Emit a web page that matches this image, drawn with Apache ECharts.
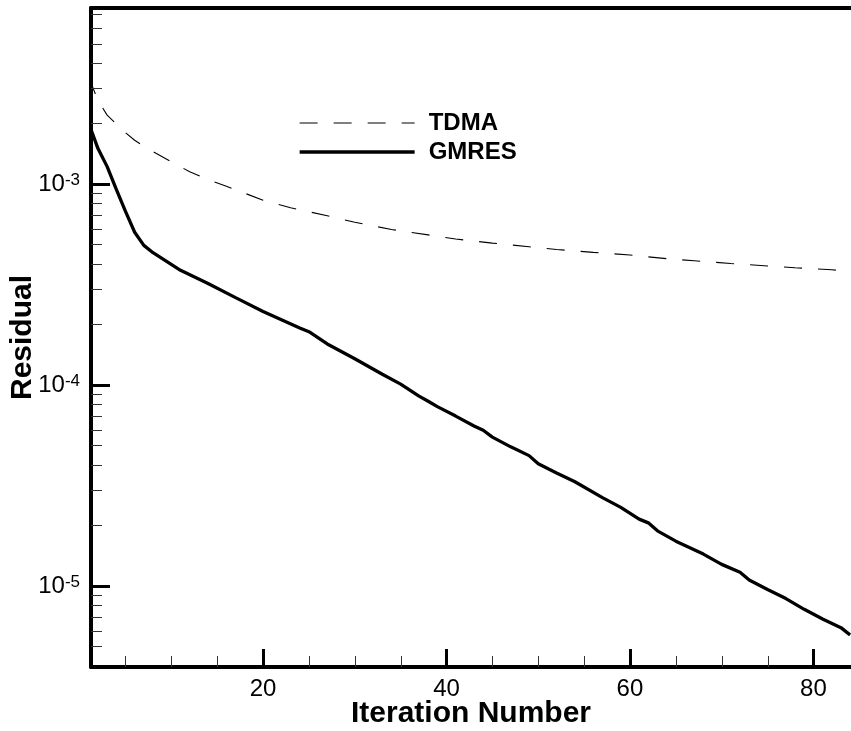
<!DOCTYPE html>
<html>
<head>
<meta charset="utf-8">
<script src="https://cdn.jsdelivr.net/npm/echarts@6/dist/echarts.min.js"></script>
<style>
  html, body { margin: 0; padding: 0; background: #fff; }
  #chart { width: 851px; height: 731px; }
</style>
</head>
<body>
<div id="chart"></div>
<script>
// Convergence history: residual versus iteration for two linear solvers
const tdmaIter = [1, 2, 3, 4, 5, 6, 7, 8, 10, 12, 14, 16, 20, 23, 27, 30, 34, 38, 41, 45, 49, 52, 56, 60, 64, 67, 71, 75, 78, 82, 84];
const tdmaResidual = [3.4e-3, 2.6e-3, 2.2e-3, 1.99e-3, 1.8e-3, 1.65e-3, 1.54e-3, 1.45e-3, 1.29e-3, 1.15e-3, 1.05e-3, 9.75e-4,
  8.3e-4, 7.62e-4, 6.95e-4, 6.45e-4, 5.94e-4, 5.58e-4, 5.32e-4, 5.08e-4, 4.87e-4, 4.72e-4, 4.57e-4, 4.43e-4,
  4.25e-4, 4.15e-4, 4.02e-4, 3.91e-4, 3.83e-4, 3.74e-4, 3.69e-4];

const gmresIter = [1, 2, 3, 4, 5, 6, 7, 8, 11, 14, 17, 20, 24, 25, 27, 30, 33, 35, 37, 38, 39, 41, 43, 44, 45, 47, 49, 50,
  52, 54, 57, 59, 61, 62, 63, 65, 66, 68, 70, 72, 73, 75, 77, 79, 81, 83, 84];
const gmresResidual = [2.0e-3, 1.5e-3, 1.22e-3, 9.4e-4, 7.3e-4, 5.75e-4, 4.95e-4, 4.55e-4, 3.72e-4, 3.2e-4, 2.72e-4, 2.32e-4,
  1.92e-4, 1.84e-4, 1.6e-4, 1.35e-4, 1.13e-4, 1.01e-4, 8.8e-5, 8.3e-5, 7.8e-5, 7.0e-5, 6.25e-5, 5.95e-5, 5.5e-5, 4.92e-5,
  4.45e-5, 4.05e-5, 3.65e-5, 3.3e-5, 2.75e-5, 2.46e-5, 2.15e-5, 2.06e-5, 1.88e-5, 1.67e-5, 1.59e-5, 1.44e-5, 1.28e-5,
  1.17e-5, 1.07e-5, 9.6e-6, 8.65e-6, 7.65e-6, 6.85e-6, 6.2e-6, 5.7e-6];

// Axis ranges and tick positions
const xRange = [1.24, 84.1];
const yRange = [3.95e-6, 7.51e-3];
const xMajorTicks = [20, 40, 60, 80];
const xMinorTicks = [5, 10, 15, 25, 30, 35, 45, 50, 55, 65, 70, 75];
const yMinorTicks = [5e-6, 6e-6, 7e-6, 8e-6, 9e-6,
  2e-5, 3e-5, 4e-5, 5e-5, 6e-5, 7e-5, 8e-5, 9e-5,
  2e-4, 3e-4, 4e-4, 5e-4, 6e-4, 7e-4, 8e-4, 9e-4,
  2e-3, 3e-3, 4e-3, 5e-3, 6e-3, 7e-3];

const FONT = '"Liberation Sans", Arial, Helvetica, sans-serif';
const INK = '#000';

const zip = (xs, ys) => xs.map((x, i) => [x, ys[i]]);

const chart = echarts.init(document.getElementById('chart'), null, { renderer: 'canvas' });

chart.setOption({
  animation: false,
  backgroundColor: '#fff',
  grid: { left: 91, right: 0, top: 8, bottom: 64, containLabel: false, outerBoundsMode: 'none' },
  legend: {
    orient: 'vertical',
    left: 293,
    top: 106,
    itemWidth: 115,
    itemHeight: 14,
    itemGap: 5,
    itemStyle: { opacity: 0, borderWidth: 0 },
    data: [
      { name: 'TDMA', lineStyle: { color: INK, width: 1.1, type: [18, 16] } },
      { name: 'GMRES', lineStyle: { color: INK, width: 3.3 } }
    ],
    textStyle: { fontFamily: FONT, fontSize: 24, fontWeight: 'bold', color: INK, lineHeight: 24, padding: [0, 0, 0, 9] }
  },
  xAxis: [
    {
      type: 'value',
      min: xRange[0],
      max: xRange[1],
      position: 'bottom',
      name: 'Iteration Number',
      nameLocation: 'middle',
      nameGap: 32,
      nameMoveOverlap: false,
      nameTextStyle: { fontFamily: FONT, fontSize: 30, fontWeight: 'bold', color: INK },
      axisLine: { show: true, onZero: false, lineStyle: { color: INK, width: 4 } },
      axisTick: { show: true, inside: true, length: 18, customValues: xMajorTicks, lineStyle: { color: INK, width: 3 } },
      axisLabel: { show: true, customValues: xMajorTicks, margin: 10, fontFamily: FONT, fontSize: 24, color: INK },
      splitLine: { show: false }
    },
    {
      // top frame line
      type: 'value',
      min: xRange[0],
      max: xRange[1],
      position: 'top',
      axisLine: { show: true, onZero: false, lineStyle: { color: INK, width: 4 } },
      axisTick: { show: false },
      axisLabel: { show: false },
      splitLine: { show: false }
    }
  ],
  yAxis: {
    type: 'log',
    logBase: 10,
    min: yRange[0],
    max: yRange[1],
    name: 'Residual',
    nameLocation: 'middle',
    nameGap: 53,
    nameMoveOverlap: false,
    nameTextStyle: { fontFamily: FONT, fontSize: 30, fontWeight: 'bold', color: INK },
    axisLine: { show: true, onZero: false, lineStyle: { color: INK, width: 4 } },
    axisTick: { show: true, inside: true, length: 19, lineStyle: { color: INK, width: 3 } },
    axisLabel: {
      margin: 11,
      fontFamily: FONT,
      fontSize: 24,
      color: INK,
      formatter: function (v) {
        const e = Math.log10(v);
        const r = Math.round(e);
        return Math.abs(e - r) < 1e-6 ? '{base|10}{sup|' + r + '}' : '';
      },
      rich: {
        base: { fontFamily: FONT, fontSize: 24, color: INK },
        sup: { fontFamily: FONT, fontSize: 17, color: INK, verticalAlign: 'top', padding: [0, 0, 6, 0] }
      }
    },
    splitLine: { show: false }
  },
  series: [
    {
      name: 'TDMA',
      type: 'line',
      data: zip(tdmaIter, tdmaResidual),
      symbol: 'none',
      smooth: false,
      clip: true,
      lineStyle: { color: INK, width: 1.1, type: [18, 16] },
      itemStyle: { color: INK }
    },
    {
      name: 'GMRES',
      type: 'line',
      data: zip(gmresIter, gmresResidual),
      symbol: 'none',
      smooth: false,
      clip: true,
      lineStyle: { color: INK, width: 3.3 },
      itemStyle: { color: INK }
    },
    {
      // minor ticks along the bottom axis
      type: 'custom',
      silent: true,
      z: 5,
      data: xMinorTicks.map(v => [v, yRange[0]]),
      renderItem: function (params, api) {
        const p = api.coord([api.value(0), api.value(1)]);
        const x = Math.round(p[0]) + 0.5;
        return { type: 'line', shape: { x1: x, y1: p[1], x2: x, y2: p[1] - 11 }, style: { stroke: '#333', lineWidth: 1 } };
      }
    },
    {
      // minor ticks along the left axis
      type: 'custom',
      silent: true,
      z: 5,
      data: yMinorTicks.map(v => [xRange[0], v]),
      renderItem: function (params, api) {
        const p = api.coord([api.value(0), api.value(1)]);
        const y = Math.round(p[1]) + 0.5;
        return { type: 'line', shape: { x1: p[0], y1: y, x2: p[0] + 11, y2: y }, style: { stroke: '#333', lineWidth: 1 } };
      }
    }
  ]
});
</script>
</body>
</html>
